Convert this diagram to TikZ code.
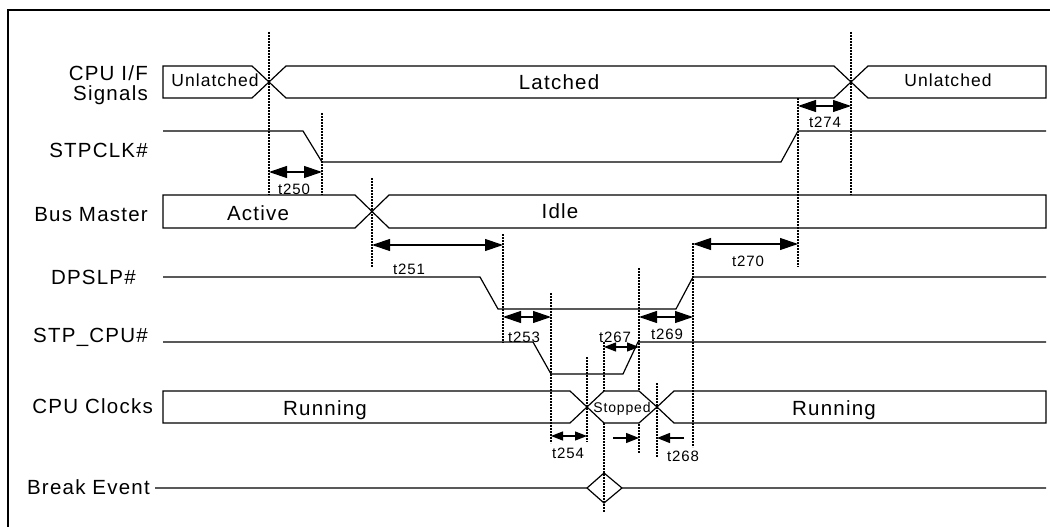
\documentclass[tikz,border=0pt]{standalone}
\usepackage{fontspec}
\setmainfont{Liberation Sans}[LetterSpace=6]
\usetikzlibrary{arrows.meta}
\tikzset{
    frameline/.style={draw=black, line width=2pt},
    sig/.style={draw=black, line width=1.2pt},
    guide/.style={draw=black, line width=2pt, dash pattern=on 2pt off 1pt},
    tspan/.style={{Triangle[length=18pt,width=12pt]}-{Triangle[length=18pt,width=12pt]}, line width=1.2pt},
    tsmall/.style={{Triangle[length=12pt,width=9pt]}-{Triangle[length=12pt,width=9pt]}, line width=1.2pt},
    tin/.style={-{Triangle[length=13pt,width=10pt]}, line width=1.2pt},
    signame/.style={anchor=base east, inner sep=0pt, font=\fontsize{20.5}{24}\selectfont},
    busval/.style={anchor=base, inner sep=0pt, font=\fontsize{20.5}{24}\selectfont},
    busvalsm/.style={anchor=base, inner sep=0pt, font=\fontsize{17.5}{20}\selectfont},
    tlab/.style={anchor=base, inner sep=0pt, font=\fontsize{15}{18}\selectfont}
}

\begin{document}
\begin{tikzpicture}[x=1pt,y=-1pt]
\useasboundingbox (0,0) rectangle (1050,527);
\draw[frameline] (8,527) -- (8,10) -- (1050,10);

% signal names
\node[signame] (lcpu) at (148,81) {CPU I/F};
\node[signame] (lsig) at (148,100) {Signals};
\node[signame] (lstpclk) at (148,157) {STPCLK\#};
\node[signame] (lbus) at (148,221) {Bus Master};
\node[signame] (ldpslp) at (136,284) {DPSLP\#};
\node[signame] (lstpcpu) at (148,342) {STP\_CPU\#};
\node[signame] (lclk) at (153,413) {CPU Clocks};
\node[signame] (lbrk) at (150,494) {Break Event};

% dotted guides
\draw[guide] (269,32) -- (269,195);
\draw[guide] (322,113) -- (322,195);
\draw[guide] (851,32) -- (851,195);
\draw[guide] (798,98) -- (798,267);
\draw[guide] (372,178) -- (372,267);
\draw[guide] (503,234) -- (503,343);
\draw[guide] (551,293) -- (551,443);
\draw[guide] (639,268) -- (639,453);
\draw[guide] (693,243) -- (693,447);
\draw[guide] (604,342) -- (604,512);
\draw[guide] (587,357) -- (587,442);
\draw[guide] (657,383) -- (657,457);

% CPU I/F signals
\draw[sig] (163,66) -- (252,66) -- (286,98) -- (834,98) -- (868,66) -- (1046,66) -- (1046,98) -- (868,98) -- (834,66) -- (286,66) -- (252,98) -- (163,98) -- cycle;
\node[busvalsm] (vunl1) at (215,86) {Unlatched};
\node[busval] (vlat) at (559,89) {Latched};
\node[busvalsm] (vunl2) at (948,87) {Unlatched};

% STPCLK#
\draw[sig] (163,131) -- (303,131) -- (322,162) -- (781,162) -- (798,131) -- (1046,131);

% Bus Master
\draw[sig] (163,195) -- (355,195) -- (389,228) -- (1046,228) -- (1046,195) -- (389,195) -- (355,228) -- (163,228) -- cycle;
\node[busval] (vact) at (258,220) {Active};
\node[busval] (vidle) at (560,218) {Idle};

% DPSLP#
\draw[sig] (163,277) -- (480,277) -- (498,309) -- (676,309) -- (693,277) -- (1046,277);

% STP_CPU#
\draw[sig] (163,342) -- (533,342) -- (551,374) -- (623,374) -- (638,342) -- (1046,342);

% CPU Clocks
\draw[sig] (163,391) -- (570,391) -- (587,407) -- (570,423) -- (163,423) -- cycle;
\draw[sig] (1046,391) -- (674,391) -- (657,407) -- (674,423) -- (1046,423) -- cycle;
\draw[sig, fill=white] (587,407) -- (604,391) -- (639,391) -- (657,407) -- (639,423) -- (604,423) -- cycle;
\node[busval] (vrun1) at (325,415) {Running};
\node[anchor=base, inner sep=0pt, font=\fontsize{14}{16}\selectfont] (vstop) at (622,412) {Stopped};
\node[busval] (vrun2) at (834,415) {Running};

% Break Event
\draw[sig] (155,488) -- (587,488) -- (604,473) -- (622,488) -- (604,503) -- (587,488)
    (622,488) -- (1046,488);

% timing spans
\draw[tspan] (269,172) -- (322,172);
\node[tlab] (t250) at (294,194) {t250};
\draw[tspan] (798,106) -- (851,106);
\node[tlab] (t274) at (825,127) {t274};
\draw[tspan] (372,245) -- (503,245);
\node[tlab] (t251) at (409,274) {t251};
\draw[tspan] (693,244) -- (798,244);
\node[tlab] (t270) at (748,266) {t270};
\draw[tspan] (503,317) -- (551,317);
\node[tlab] (t253) at (524,342) {t253};
\draw[tspan] (639,317) -- (693,317);
\node[tlab] (t269) at (667,339) {t269};
\draw[tsmall] (604,347) -- (639,347);
\node[tlab] (t267) at (615,342) {t267};
\draw[tsmall] (551,436) -- (587,436);
\node[tlab] (t254) at (568,458) {t254};
\draw[tin] (613,438) -- (639,438);
\draw[tin] (684,438) -- (657,438);
\node[tlab] (t268) at (683,461) {t268};
\end{tikzpicture}
\end{document}
